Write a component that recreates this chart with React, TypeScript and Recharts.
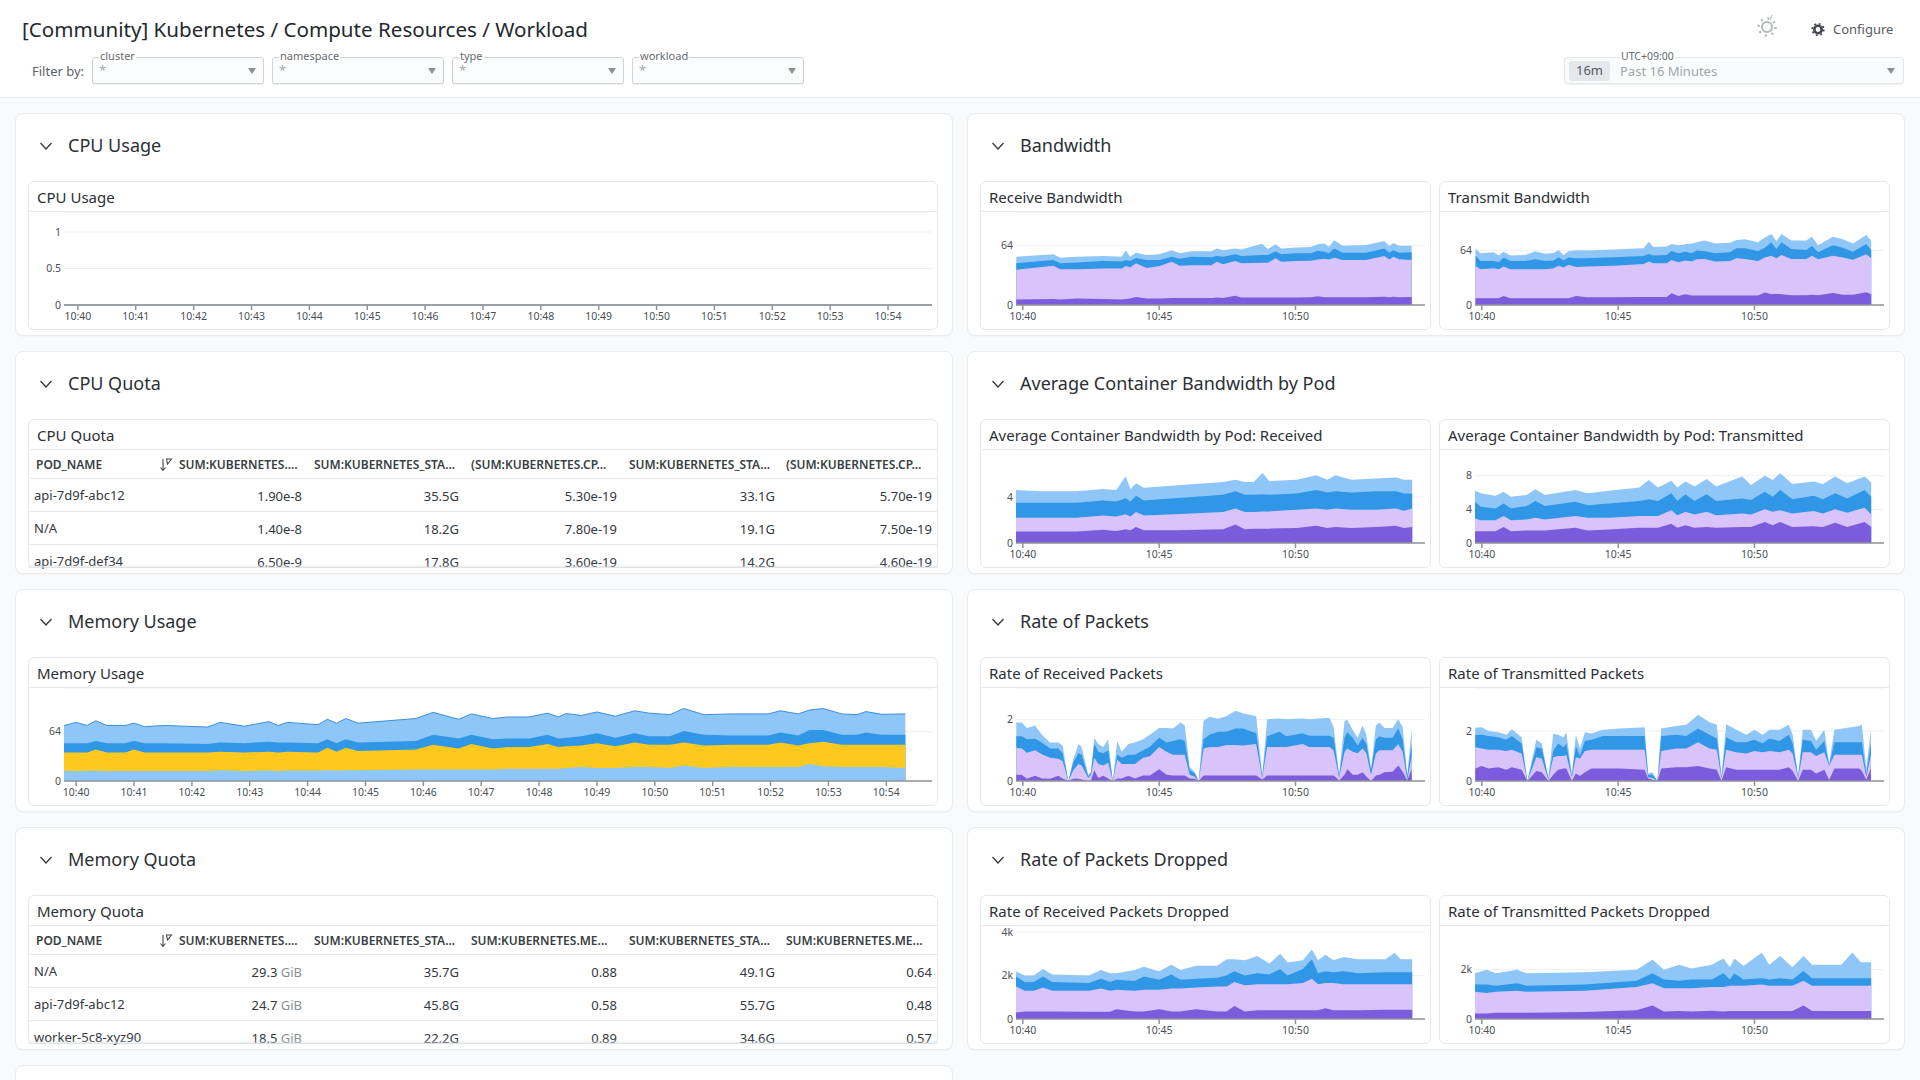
import { AreaChart, Area, XAxis, YAxis, CartesianGrid } from 'recharts';

const DARK = '#7b5cdc';
const LILAC = '#d9c3fb';
const BLUE = '#3096e6';
const SKY = '#8fc6f8';
const YELLOW = '#fec91f';
const FONT = '"Noto Sans", sans-serif';

// all stacked charts keep the top edge of each band, bottom band first
const minuteTicks = [0, 1, 2, 3, 4, 5, 6, 7, 8, 9, 10, 11, 12, 13, 14];
const fiveMinuteTicks = [0, 5, 10];

const cpuTimes = [-0.24, 1, 2, 3, 4, 5, 6, 7, 8, 9, 10, 11, 12, 13, 14, 14.76];
const cpuUsage = [0, 0, 0, 0, 0, 0, 0, 0, 0, 0, 0, 0, 0, 0, 0, 0];

const rxBwTimes = [-0.24, 1.12, 1.37, 1.98, 2.95, 3.62, 3.78, 3.93, 4.15, 4.54, 5.02, 5.46, 5.76, 6.18, 6.91, 7.12, 7.34, 7.79, 8.01, 8.77, 8.99, 9.27, 9.48, 10.02, 10.57, 10.82, 11.06, 11.22, 11.43, 11.73, 12.59, 13.26, 13.44, 13.59, 13.8, 14.26];
const rxBwDark = [6, 6.5, 6, 7, 6.5, 6, 6.5, 7, 8.6, 7, 7, 7.5, 7.5, 7.5, 7.5, 8, 7.5, 10, 8, 8, 8, 8, 8, 8, 8.5, 9.4, 8.5, 8.5, 8.5, 8.5, 8.5, 9, 8.5, 9, 8.5, 8.6];
const rxBwLilac = [38, 42.5, 38.5, 38.5, 39.5, 39.5, 42, 40.5, 45, 40, 42, 46.8, 42.5, 43, 43, 46.8, 44, 47.5, 45, 45.7, 45.7, 50.4, 46.8, 47.5, 47.8, 49, 50, 49, 51, 48.5, 48.5, 53, 49, 52, 49.5, 48.5];
const rxBwBlue = [45, 48.5, 45, 46, 47.5, 47, 48.5, 47.5, 50.7, 48.5, 48.5, 52, 50, 52, 51.5, 53, 52, 54.7, 53, 54, 54, 58, 54.7, 55.8, 55.8, 58.6, 57.5, 56, 61, 56.5, 56.5, 61, 56.5, 59, 56.5, 57];
const rxBwSky = [52, 54.7, 51, 52, 53, 52, 59, 52, 56.5, 54, 54.7, 59, 55.8, 58, 58, 61, 59, 61, 60, 66, 60.4, 65.5, 61, 62, 62.6, 65.5, 66.5, 63, 70, 64, 64.7, 69, 63.7, 67, 64, 64];

const txBwTimes = [-0.23, -0.05, 0.44, 0.62, 0.8, 1.05, 1.6, 1.96, 2.33, 2.63, 2.82, 3.0, 3.18, 3.46, 3.85, 4.83, 5.93, 6.13, 6.29, 6.78, 6.96, 7.21, 7.45, 7.7, 7.88, 8.18, 8.55, 9.1, 9.34, 9.65, 10.13, 10.38, 10.62, 10.8, 10.99, 11.35, 11.9, 12.11, 12.33, 12.88, 13.24, 13.61, 14.1, 14.28];
const txBwDark = [8, 8, 8, 8, 10.5, 8, 8, 8, 8, 8, 8, 8, 8, 10.5, 9, 9, 9.5, 9.5, 9.5, 9.5, 13.7, 10.5, 12.5, 11, 11, 11, 11, 11, 11, 11, 11, 14.5, 12.5, 13.3, 12.5, 11.5, 11.5, 12, 11.5, 14, 12, 12, 14.8, 12.5];
const txBwLilac = [46, 42, 43, 42, 45, 41.8, 41.8, 42, 42, 43, 46, 44, 47, 44.5, 45, 46, 48, 50.8, 49, 49, 52.7, 50, 52, 50.8, 53.5, 54, 50.8, 51.5, 54.7, 54, 51.5, 55.5, 57.8, 54.7, 58.6, 54, 54, 57.8, 53.5, 57.8, 55.5, 53, 59.4, 54.7];
const txBwBlue = [58, 51.5, 51.5, 50, 55.5, 51.5, 51.5, 53.5, 51.5, 52, 56, 52, 55.5, 54.7, 54.7, 56, 57.4, 59.8, 58, 58.6, 63.3, 60.5, 62.5, 60.5, 63.7, 63, 60.5, 61.7, 66.4, 66.4, 63.3, 67, 73.4, 65.6, 73.4, 65.6, 64.5, 69, 61.7, 70, 67, 62.5, 71.5, 64.5];
const txBwSky = [66, 60.5, 61.7, 58, 62.5, 58, 58.6, 63, 60, 61, 64, 58.6, 63, 64, 63.7, 65, 66.4, 74, 68, 68.4, 71.5, 70, 71, 72, 73.4, 75.4, 72, 73, 76, 77, 73.4, 79, 83, 75, 83, 75.4, 75.4, 80, 70, 80, 77, 72, 82, 75.4];

const avgRxTimes = [-0.25, 0.63, 1.97, 2.94, 3.43, 3.77, 3.95, 4.15, 4.44, 5.56, 7.35, 7.8, 8.14, 8.47, 8.79, 9.04, 10.04, 10.76, 11.17, 11.46, 12.06, 12.96, 13.68, 13.97, 14.28];
const avgRxDark = [1.0, 1.0, 1.0, 1.15, 1.05, 1.2, 1.1, 1.4, 1.1, 1.1, 1.2, 1.6, 1.2, 1.25, 1.25, 1.25, 1.3, 1.5, 1.3, 1.4, 1.3, 1.4, 1.5, 1.3, 1.4];
const avgRxLilac = [2.2, 2.2, 2.2, 2.4, 2.3, 2.5, 2.3, 2.7, 2.4, 2.5, 2.7, 3.0, 2.7, 2.7, 2.75, 2.75, 2.9, 3.0, 2.9, 3.0, 2.9, 2.9, 3.0, 2.8, 3.0];
const avgRxBlue = [3.5, 3.5, 3.5, 3.7, 3.6, 3.9, 3.6, 4.1, 3.7, 3.9, 4.2, 4.5, 4.2, 4.2, 4.25, 4.2, 4.3, 4.6, 4.4, 4.5, 4.4, 4.5, 4.5, 4.3, 4.3];
const avgRxSky = [4.6, 4.5, 4.5, 4.7, 4.6, 5.8, 4.7, 5.2, 4.8, 5.0, 5.3, 5.5, 5.3, 5.3, 6.1, 5.4, 5.5, 5.9, 5.5, 5.9, 5.5, 5.6, 5.7, 5.5, 5.5];

const avgTxTimes = [-0.25, -0.04, 0.5, 0.8, 1.07, 1.64, 1.97, 2.31, 3.43, 3.88, 4.66, 5.78, 6.12, 6.46, 6.95, 7.17, 7.47, 7.8, 8.25, 8.59, 9.55, 9.87, 10.38, 10.67, 10.94, 11.39, 12.17, 12.51, 12.96, 13.4, 14.04, 14.28];
const avgTxDark = [1.4, 1.4, 1.4, 1.9, 1.4, 1.5, 1.5, 1.5, 1.8, 1.5, 1.6, 1.8, 1.8, 1.8, 2.3, 1.8, 2.1, 1.8, 1.9, 1.8, 1.9, 1.9, 2.5, 2.1, 2.5, 1.9, 2.0, 1.9, 2.4, 1.9, 2.5, 1.9];
const avgTxLilac = [2.9, 2.7, 2.7, 3.2, 2.7, 2.8, 3.0, 2.8, 3.2, 3.0, 3.0, 3.2, 3.2, 3.2, 3.9, 3.3, 3.7, 3.4, 3.7, 3.3, 3.5, 3.4, 4.0, 3.7, 3.9, 3.5, 3.8, 3.5, 4.0, 3.6, 4.2, 3.4];
const avgTxBlue = [4.9, 4.3, 4.1, 4.7, 4.1, 4.4, 5.0, 4.4, 4.9, 4.5, 4.7, 5.0, 5.2, 5.0, 5.9, 5.0, 5.8, 5.0, 5.8, 5.0, 5.3, 5.1, 6.1, 5.5, 6.3, 5.2, 5.6, 5.2, 5.9, 5.3, 6.3, 5.5];
const avgTxSky = [6.2, 5.9, 5.6, 6.1, 5.5, 5.7, 6.4, 5.7, 6.3, 5.9, 6.2, 6.6, 7.5, 6.6, 7.4, 6.6, 7.3, 6.7, 7.6, 6.7, 7.9, 6.9, 8.0, 7.5, 8.3, 7.0, 7.3, 7.0, 7.9, 7.1, 7.9, 7.2];

const memTimes = [-0.21, 0, 0.19, 0.34, 0.53, 0.85, 1.0, 1.18, 1.53, 2.27, 2.49, 2.91, 3.33, 3.49, 3.65, 4.18, 4.34, 4.5, 4.66, 4.87, 5.87, 6.17, 6.61, 6.83, 7.2, 7.46, 7.83, 8.15, 8.33, 8.47, 8.73, 9.0, 9.32, 9.65, 9.9, 10.26, 10.5, 10.85, 11.32, 11.96, 12.17, 12.48, 12.67, 12.91, 13.23, 13.49, 13.65, 13.92, 14.33];
const memSkyLow = [13.4, 13, 13.4, 13.4, 13, 13, 13, 13, 13, 13, 14, 13, 13.5, 13, 13.5, 13.5, 14, 13.5, 14, 14, 15, 15, 15, 15, 15, 16, 16, 16, 16, 17, 18, 17, 17, 18, 18, 17, 20, 17, 18, 18, 18, 18, 22, 19, 18, 18, 18, 18, 17];
const memYellow = [37, 37, 37, 41, 37, 37, 41, 37, 37, 37, 38, 37, 38, 37, 38, 37, 43, 38, 43, 39, 41, 47, 42, 48, 42, 44, 44, 48, 44, 45, 46, 49, 45, 50, 47, 47, 50, 46, 47, 47, 50, 46, 49, 51, 47, 47, 47, 47, 47];
const memBlue = [49, 49, 49, 52, 49, 49, 52, 49, 49, 48, 50, 49, 51, 50, 50, 49, 54, 49, 54, 50, 52, 60, 55, 60, 54, 55, 55, 60, 55, 56, 58, 62, 56, 62, 58, 58, 65, 60, 59, 59, 63, 59, 66, 66, 60, 60, 63, 60, 60];
const memSkyTop = [72, 76, 72, 78, 72, 72, 75, 70.5, 72, 70, 76, 71, 77, 72, 76, 73, 80, 75, 81, 75, 81, 89, 80, 87, 81, 83, 83, 88, 83, 87.5, 85, 89.5, 84, 91, 88, 86, 94, 86, 87, 87, 91, 87, 92, 94, 87, 86, 90, 86.5, 87];

const rxPktTimes = [-0.24, -0.04, 0.15, 0.45, 0.7, 1.0, 1.3, 1.46, 1.67, 1.85, 2.04, 2.16, 2.4, 2.5, 2.62, 2.77, 2.95, 3.13, 3.3, 3.46, 3.63, 3.87, 4.11, 4.41, 4.66, 5.0, 5.27, 5.51, 5.78, 5.94, 6.12, 6.3, 6.45, 6.63, 6.85, 7.16, 7.46, 7.8, 8.07, 8.56, 8.78, 8.96, 9.41, 9.66, 10.27, 10.5, 11.24, 11.4, 11.6, 11.8, 11.9, 12.1, 12.28, 12.46, 12.6, 12.77, 12.95, 13.08, 13.26, 13.56, 13.77, 13.93, 14.1, 14.26];
const rxPktDark = [0.2, 0.2, 0.07, 0.17, 0.08, 0.07, 0.17, 0.08, 0, 0.07, 0.07, 0.05, 0, 0.02, 0.35, 0.1, 0.17, 0.08, 0, 0.08, 0.08, 0.17, 0.08, 0.18, 0.18, 0.38, 0.2, 0.18, 0.18, 0.18, 0.08, 0.07, 0, 0.18, 0.18, 0.18, 0.18, 0.18, 0.18, 0.18, 0.05, 0.18, 0.18, 0.18, 0.18, 0.18, 0.18, 0.18, 0.02, 0.2, 0.38, 0.2, 0.2, 0.28, 0.15, 0, 0.18, 0.2, 0.28, 0.3, 0.5, 0.3, 0.02, 0.38];
const rxPktLilac = [1.08, 1.05, 0.92, 1.0, 0.87, 0.75, 0.72, 0.65, 0, 0.35, 0.55, 0.5, 0.1, 0.2, 0.75, 0.55, 0.5, 0.6, 0, 0.7, 0.55, 0.55, 0.55, 0.75, 0.8, 1.1, 0.95, 0.85, 0.85, 0.85, 0.2, 0.15, 0, 1.05, 1.1, 1.1, 1.17, 1.17, 1.15, 1.2, 0.1, 1.1, 1.1, 1.1, 1.2, 1.1, 1.1, 1.0, 0.1, 0.95, 1.05, 0.95, 0.9, 1.05, 0.9, 0.2, 0.9, 1.0, 1.0, 1.0, 1.2, 0.95, 0.05, 0.8];
const rxPktBlue = [1.45, 1.45, 1.35, 1.37, 1.25, 1.05, 1.05, 0.9, 0, 0.6, 0.9, 0.85, 0.15, 0.25, 1.2, 0.95, 0.9, 1.0, 0, 0.85, 0.75, 0.85, 0.85, 1.0, 1.1, 1.4, 1.25, 1.3, 1.35, 1.3, 0.35, 0.25, 0, 1.35, 1.5, 1.6, 1.6, 1.7, 1.7, 1.55, 0.15, 1.45, 1.6, 1.45, 1.55, 1.47, 1.47, 1.4, 0.15, 1.4, 1.58, 1.4, 1.15, 1.4, 1.2, 0.35, 1.35, 1.45, 1.4, 1.4, 1.7, 1.35, 0.15, 1.2];
const rxPktSky = [1.9, 1.9, 1.72, 1.8, 1.5, 1.25, 1.25, 1.15, 0, 0.7, 1.2, 1.1, 0.2, 0.3, 1.4, 1.2, 1.1, 1.35, 0, 1.3, 0.95, 1.2, 1.25, 1.35, 1.5, 1.72, 1.72, 1.7, 1.9, 1.8, 0.45, 0.3, 0, 1.95, 2.08, 2.02, 2.1, 2.28, 2.2, 2.1, 0.2, 2.0, 2.03, 2.0, 2.03, 2.0, 2.05, 1.75, 0.2, 1.95, 1.98, 1.65, 1.4, 1.8, 1.5, 0.4, 1.8, 1.9, 1.72, 1.72, 2.0, 1.75, 0.2, 1.72];

const txPktTimes = [-0.24, 0, 0.24, 0.6, 0.9, 1.1, 1.46, 1.67, 2.0, 2.2, 2.44, 2.62, 2.8, 3.0, 3.1, 3.3, 3.45, 3.6, 3.78, 4.02, 4.45, 5.06, 5.97, 6.1, 6.26, 6.44, 6.58, 7.13, 7.5, 7.93, 8.35, 8.62, 8.79, 8.96, 9.33, 9.7, 10.0, 10.3, 10.55, 10.92, 11.26, 11.4, 11.6, 11.77, 12.07, 12.26, 12.56, 12.74, 12.93, 13.84, 13.94, 14.1, 14.27];
const txPktDark = [0.5, 0.6, 0.5, 0.55, 0.45, 0.55, 0.45, 0, 0.4, 0.35, 0, 0.25, 0.45, 0.5, 0.5, 0, 0.3, 0.2, 0.35, 0.5, 0.5, 0.5, 0.45, 0.1, 0.05, 0, 0.5, 0.55, 0.55, 0.6, 0.5, 0.45, 0, 0.55, 0.45, 0.45, 0.45, 0.45, 0.45, 0.45, 0.55, 0.4, 0, 0.45, 0.45, 0.3, 0.45, 0.05, 0.5, 0.5, 0.4, 0.05, 0.5];
const txPktLilac = [1.35, 1.3, 1.25, 1.25, 1.2, 1.25, 1.1, 0, 0.95, 0.9, 0.05, 0.95, 1.0, 1.0, 1.05, 0.15, 0.95, 0.9, 1.2, 1.25, 1.25, 1.25, 1.25, 0.15, 0.12, 0, 1.2, 1.3, 1.3, 1.55, 1.3, 1.25, 0.1, 1.25, 1.15, 1.1, 1.2, 1.15, 1.2, 1.15, 1.25, 1.1, 0.1, 1.15, 1.15, 1.0, 1.15, 0.6, 1.05, 1.05, 1.05, 0.15, 1.05];
const txPktBlue = [1.84, 1.85, 1.8, 1.75, 1.65, 1.8, 1.5, 0, 1.35, 1.3, 0.1, 1.2, 1.5, 1.35, 1.5, 0.2, 1.4, 1.0, 1.6, 1.65, 1.8, 1.8, 1.8, 0.25, 0.25, 0, 1.8, 1.85, 1.8, 2.1, 1.85, 1.7, 0.15, 1.75, 1.55, 1.55, 1.65, 1.5, 1.7, 1.6, 1.85, 1.5, 0.15, 1.65, 1.6, 1.25, 1.6, 0.6, 1.55, 1.55, 1.55, 0.25, 1.5];
const txPktSky = [2.13, 2.15, 2.0, 1.95, 1.85, 2.07, 1.75, 0, 1.65, 1.5, 0.12, 1.9, 1.85, 1.75, 1.95, 0.25, 1.85, 1.3, 1.95, 1.9, 2.05, 2.1, 2.15, 0.3, 0.35, 0, 2.1, 2.2, 2.25, 2.65, 2.35, 2.25, 0.2, 2.27, 2.05, 1.85, 2.05, 1.85, 2.05, 2.05, 2.25, 1.85, 0.2, 2.05, 2.05, 1.6, 2.05, 0.7, 2.05, 2.2, 2.25, 0.5, 2.05];

const rxDropTimes = [-0.25, 0.07, 0.4, 0.74, 1.08, 2.42, 2.87, 3.2, 3.43, 4.1, 4.44, 5.0, 5.45, 5.78, 6.35, 7.13, 7.47, 7.76, 8.14, 8.6, 9.04, 9.44, 9.71, 10.27, 10.6, 10.83, 11.1, 11.39, 11.77, 12.29, 13.3, 13.63, 13.86, 14.28];
const rxDropDark = [300, 350, 350, 350, 350, 330, 330, 330, 450, 350, 350, 450, 350, 350, 450, 350, 350, 600, 350, 400, 400, 400, 400, 400, 400, 400, 500, 400, 400, 400, 420, 420, 420, 420];
const rxDropLilac = [1500, 1300, 1300, 1450, 1300, 1300, 1400, 1300, 1350, 1300, 1350, 1350, 1400, 1400, 1450, 1500, 1500, 1700, 1550, 1600, 1600, 1600, 1600, 1650, 1850, 1600, 1650, 1650, 1600, 1600, 1600, 1600, 1600, 1600];
const rxDropBlue = [1950, 1700, 1700, 1950, 1700, 1650, 1850, 1700, 1800, 1750, 1950, 1800, 2050, 1800, 1850, 1900, 2000, 2200, 2000, 2100, 2050, 2300, 2000, 2300, 2750, 2100, 2200, 2150, 2200, 2100, 2150, 2150, 2150, 2150];
const rxDropSky = [2200, 2000, 2000, 2300, 2050, 2000, 2250, 2100, 2100, 2250, 2400, 2200, 2500, 2250, 2450, 2450, 2750, 2750, 2700, 2900, 2550, 3000, 2600, 2700, 3200, 2700, 2950, 2700, 2850, 2750, 2750, 3050, 2750, 2750];

const txDropTimes = [-0.25, 0.18, 0.52, 1.3, 1.64, 3.77, 5.67, 6.26, 6.68, 7.24, 7.69, 8.43, 8.86, 9.1, 9.26, 9.6, 10.27, 10.54, 10.94, 11.39, 11.8, 12.11, 13.18, 13.59, 13.9, 14.28];
const txDropDark = [220, 220, 250, 250, 250, 280, 350, 550, 300, 320, 300, 330, 300, 320, 320, 320, 320, 320, 320, 320, 550, 320, 320, 320, 320, 320];
const txDropLilac = [1100, 1050, 1100, 1150, 1100, 1150, 1300, 1450, 1250, 1250, 1250, 1300, 1300, 1350, 1350, 1350, 1400, 1350, 1350, 1350, 1550, 1350, 1350, 1350, 1350, 1350];
const txDropBlue = [1400, 1400, 1350, 1450, 1350, 1400, 1550, 1850, 1600, 1550, 1600, 1600, 1850, 1600, 1850, 1600, 1650, 1600, 1650, 1600, 1950, 1650, 1650, 1650, 1650, 1650];
const txDropSky = [1850, 2000, 1850, 2000, 1850, 1900, 2000, 2400, 2000, 2200, 2050, 2200, 2450, 2100, 2450, 2150, 2700, 2200, 2550, 2100, 2550, 2200, 2200, 2700, 2300, 2300];

const cpuQuotaHeaders = ['SUM:KUBERNETES....', 'SUM:KUBERNETES_STA...', '(SUM:KUBERNETES.CP...', 'SUM:KUBERNETES_STA...', '(SUM:KUBERNETES.CP...'];
const cpuQuotaPods = ['api-7d9f-abc12', 'N/A', 'api-7d9f-def34'];
const cpuQuotaRows = [
  ['1.90e-8', '35.5G', '5.30e-19', '33.1G', '5.70e-19'],
  ['1.40e-8', '18.2G', '7.80e-19', '19.1G', '7.50e-19'],
  ['6.50e-9', '17.8G', '3.60e-19', '14.2G', '4.60e-19'],
];
const memQuotaHeaders = ['SUM:KUBERNETES....', 'SUM:KUBERNETES_STA...', 'SUM:KUBERNETES.ME...', 'SUM:KUBERNETES_STA...', 'SUM:KUBERNETES.ME...'];
const memQuotaPods = ['N/A', 'api-7d9f-abc12', 'worker-5c8-xyz90'];
const memQuotaRows = [
  ['29.3 GiB', '35.7G', '0.88', '49.1G', '0.64'],
  ['24.7 GiB', '45.8G', '0.58', '55.7G', '0.48'],
  ['18.5 GiB', '22.2G', '0.89', '34.6G', '0.57'],
];

const filterNames = ['cluster', 'namespace', 'type', 'workload'];
const filterLefts = [92, 272, 452, 632];
const colRights = [302, 459, 617, 775, 932];
const colHeaderLefts = [179, 314, 471, 629, 786];
const panelTops = [113, 351, 589, 827];

function clock(m: number) {
  return `10:${String(40 + m)}`;
}

function kilo(v: number) {
  return v === 0 ? '0' : `${v / 1000}k`;
}

type Band = { values: number[]; color: string; line?: string };

function StackChart({ width, times, bands, top, yTicks, xTicks, xStart, yFormat }: {
  width: number;
  times: number[];
  bands: Band[];
  top: number;
  yTicks: number[];
  xTicks: number[];
  xStart: number;
  yFormat?: (v: number) => string;
}) {
  const data = times.map((t, i) => {
    const row: Record<string, number> = { t };
    bands.forEach((b, j) => {
      row[`b${j}`] = b.values[i];
    });
    return row;
  });
  const axisTick = { fontSize: 10.5, fill: '#4a4f55', fontFamily: FONT };
  return (
    <AreaChart width={width} height={118} data={data} margin={{ top: 0, right: 5, bottom: 0, left: 0 }}>
      <CartesianGrid vertical={false} stroke="#eeeff1" />
      <XAxis
        dataKey="t"
        type="number"
        domain={[xStart, xStart + 15]}
        ticks={xTicks}
        interval={0}
        height={25}
        tickFormatter={clock}
        tick={axisTick}
        tickSize={5}
        tickMargin={3}
        stroke="#8f9499"
        strokeWidth={1.5}
      />
      <YAxis
        type="number"
        domain={[0, top]}
        ticks={yTicks}
        interval={0}
        width={35}
        tickFormatter={yFormat}
        tick={axisTick}
        tickLine={false}
        axisLine={false}
        tickSize={0}
        tickMargin={3}
      />
      {bands.map((b, j) => ({ b, j })).reverse().map(({ b, j }) => (
        <Area
          key={j}
          dataKey={`b${j}`}
          type="linear"
          stroke={b.line ?? 'none'}
          strokeWidth={1}
          fill={b.color}
          fillOpacity={1}
          dot={false}
          activeDot={false}
          isAnimationActive={false}
        />
      ))}
    </AreaChart>
  );
}

function Chevron({ x, y }: { x: number; y: number }) {
  return (
    <svg style={{ position: 'absolute', left: x - 7, top: y - 5 }} width="14" height="10">
      <polyline points="1.5,2 7,8 12.5,2" fill="none" stroke="#33383e" strokeWidth="1.3" />
    </svg>
  );
}

function Panel({ left, top, width, title }: { left: number; top: number; width: number; title: string }) {
  return (
    <>
      <div style={{ position: 'absolute', left, top, width, height: 223, boxSizing: 'border-box', background: '#fff', border: '1px solid #e9ecef', borderRadius: 8, boxShadow: '0 1px 2px rgba(0,0,0,.03)' }} />
      <Chevron x={left + 31} y={top + 33} />
      <div style={{ position: 'absolute', left: left + 53, top: top + 19, lineHeight: '26px', fontSize: 18, color: '#2b3036', whiteSpace: 'nowrap' }}>{title}</div>
    </>
  );
}

// left/top are the inner content origin, the frame sits one pixel outside it
function Widget({ left, top, width, title, children }: { left: number; top: number; width: number; title: string; children: any }) {
  return (
    <div style={{ position: 'absolute', left: left - 1, top: top - 1, width: width + 2, height: 149, boxSizing: 'border-box', background: '#fff', border: '1px solid #e6e8eb', borderRadius: 6 }}>
      <div style={{ position: 'absolute', left: 8, top: 4, lineHeight: '22px', fontSize: 15, color: '#2b3036', whiteSpace: 'nowrap' }}>{title}</div>
      <div style={{ position: 'absolute', left: -1, right: -1, top: 29, height: 1, background: '#e6e8eb' }} />
      <div style={{ position: 'absolute', left: 0, top: 30 }}>{children}</div>
    </div>
  );
}

function QuotaTable({ top, title, headers, pods, rows }: { top: number; title: string; headers: string[]; pods: string[]; rows: string[][] }) {
  const cell = { position: 'absolute', whiteSpace: 'nowrap', lineHeight: '12px' } as const;
  return (
    <Widget left={29} top={top} width={908} title={title}>
      <div style={{ position: 'absolute', left: 0, top: 0, width: 908, height: 118 }}>
        <div style={{ ...cell, left: 7, top: 9, fontSize: 12, fontWeight: 600, color: '#3a3f45' }}>POD_NAME</div>
        <svg style={{ position: 'absolute', left: 130, top: 8 }} width="14" height="15">
          <path d="M4 1v11M1.5 9.5 4 12.5l2.5-3M7.5 1h5L8.5 6z" fill="none" stroke="#44494f" strokeWidth="1.1" />
        </svg>
        {headers.map((h, i) => (
          <div key={i} style={{ ...cell, left: colHeaderLefts[i] - 29, top: 9, fontSize: 12, fontWeight: 600, color: '#3a3f45' }}>{h}</div>
        ))}
        <div style={{ position: 'absolute', left: -1, width: 910, top: 28, height: 1, background: '#e6e8eb' }} />
        <div style={{ position: 'absolute', left: -1, width: 910, top: 61, height: 1, background: '#e6e8eb' }} />
        <div style={{ position: 'absolute', left: -1, width: 910, top: 94, height: 1, background: '#e6e8eb' }} />
        {pods.map((p, r) => (
          <div key={p} style={{ ...cell, left: 5, top: 39 + r * 33, fontSize: 13, color: '#33383e' }}>{p}</div>
        ))}
        {rows.map((row, r) =>
          row.map((v, c) => {
            const [num, unit] = v.split(' ');
            return (
              <div key={c} style={{ ...cell, left: colRights[c] - 29 - 160, width: 160, textAlign: 'right', top: 40 + r * 33, fontSize: 13, color: '#33383e' }}>
                {num}
                {unit ? <span style={{ color: '#8a8f95' }}> {unit}</span> : null}
              </div>
            );
          }),
        )}
        <div style={{ position: 'absolute', left: -1, width: 910, top: 114, height: 4, background: 'linear-gradient(rgba(225,227,230,0), rgba(220,223,227,.7))' }} />
      </div>
    </Widget>
  );
}

function Caret({ x, y }: { x: number; y: number }) {
  return <div style={{ position: 'absolute', left: x - 4, top: y - 3, width: 0, height: 0, borderLeft: '4px solid transparent', borderRight: '4px solid transparent', borderTop: '6px solid #8b9096' }} />;
}

function Filter({ left, name }: { left: number; name: string }) {
  return (
    <>
      <div style={{ position: 'absolute', left, top: 57, width: 172, height: 27, boxSizing: 'border-box', background: '#fbfcfd', border: '1px solid #cfd3d8', borderRadius: 3, boxShadow: '0 1px 1px rgba(0,0,0,.06)' }} />
      <div style={{ position: 'absolute', left: left + 7, top: 49, padding: '0 1px', background: '#fff', lineHeight: '14px', fontSize: 11, color: '#666b71' }}>{name}</div>
      <div style={{ position: 'absolute', left: left + 7, top: 63, lineHeight: '14px', fontSize: 13, color: '#a5a9ae' }}>*</div>
      <Caret x={left + 159.5} y={71} />
    </>
  );
}

function Header() {
  return (
    <>
      <div style={{ position: 'absolute', left: 0, top: 0, width: 1920, height: 98, boxSizing: 'border-box', background: '#fff', borderBottom: '1px solid #e3e6ea' }} />
      <div style={{ position: 'absolute', left: 22, top: 14, lineHeight: '30px', fontSize: 20.6, color: '#23282e', whiteSpace: 'nowrap' }}>[Community] Kubernetes / Compute Resources / Workload</div>
      <div style={{ position: 'absolute', left: 32, top: 62, lineHeight: '18px', fontSize: 13, color: '#5c6167' }}>Filter by:</div>
      {filterNames.map((n, i) => (
        <Filter key={n} left={filterLefts[i]} name={n} />
      ))}
      <svg style={{ position: 'absolute', left: 1755, top: 14 }} width="24" height="24">
        <circle cx="12" cy="13" r="5" fill="none" stroke="#b4b8bd" strokeWidth="2" />
        <circle cx="12" cy="13" r="8.5" fill="none" stroke="#b4b8bd" strokeWidth="2.5" strokeDasharray="2 4.7" />
        <path d="M15 6 17 1" stroke="#c9ccd0" strokeWidth="1.5" />
      </svg>
      <svg style={{ position: 'absolute', left: 1811, top: 22 }} width="14" height="15">
        <circle cx="7" cy="7.5" r="3.7" fill="none" stroke="#43484e" strokeWidth="2.6" />
        <circle cx="7" cy="7.5" r="5.8" fill="none" stroke="#43484e" strokeWidth="1.6" strokeDasharray="2 2.55" />
      </svg>
      <div style={{ position: 'absolute', left: 1833, top: 20, lineHeight: '18px', fontSize: 13, color: '#565b61' }}>Configure</div>
      <div style={{ position: 'absolute', left: 1564, top: 57, width: 340, height: 27, boxSizing: 'border-box', background: '#fafbfc', border: '1px solid #e3e6ea', borderRadius: 4, boxShadow: '0 1px 1px rgba(0,0,0,.05)' }} />
      <div style={{ position: 'absolute', left: 1620, top: 49, padding: '0 1px', background: '#fff', lineHeight: '14px', fontSize: 10.5, color: '#666b71' }}>UTC+09:00</div>
      <div style={{ position: 'absolute', left: 1569, top: 61, width: 41, height: 20, background: '#e5e7eb', borderRadius: 3, textAlign: 'center', lineHeight: '19px', fontSize: 13, color: '#555a60' }}>16m</div>
      <div style={{ position: 'absolute', left: 1620, top: 62, lineHeight: '18px', fontSize: 13, color: '#a2a6ab' }}>Past 16 Minutes</div>
      <Caret x={1891} y={71} />
    </>
  );
}

export default function App() {
  const bands4 = (d: number[], l: number[], b: number[], s: number[]): Band[] => [
    { values: d, color: DARK },
    { values: l, color: LILAC },
    { values: b, color: BLUE },
    { values: s, color: SKY },
  ];
  const W = 449;
  return (
    <div style={{ position: 'absolute', left: 0, top: 0, width: 1920, height: 1080, overflow: 'hidden', background: '#f8fafc', fontFamily: FONT }}>
      <Header />

      <Panel left={15} top={panelTops[0]} width={938} title="CPU Usage" />
      <Widget left={29} top={182} width={908} title="CPU Usage">
        <StackChart width={908} times={cpuTimes} bands={[{ values: cpuUsage, color: '#8f9499', line: '#8f9499' }]} top={1.274} yTicks={[0, 0.5, 1]} xTicks={minuteTicks} xStart={-0.24} />
      </Widget>

      <Panel left={15} top={panelTops[1]} width={938} title="CPU Quota" />
      <QuotaTable top={420} title="CPU Quota" headers={cpuQuotaHeaders} pods={cpuQuotaPods} rows={cpuQuotaRows} />

      <Panel left={15} top={panelTops[2]} width={938} title="Memory Usage" />
      <Widget left={29} top={658} width={908} title="Memory Usage">
        <StackChart
          width={908}
          times={memTimes}
          bands={[
            { values: memSkyLow, color: SKY },
            { values: memYellow, color: YELLOW },
            { values: memBlue, color: BLUE },
            { values: memSkyTop, color: SKY, line: '#3d8fd9' },
          ]}
          top={120.6}
          yTicks={[0, 64]}
          xTicks={minuteTicks}
          xStart={-0.21}
        />
      </Widget>

      <Panel left={15} top={panelTops[3]} width={938} title="Memory Quota" />
      <QuotaTable top={896} title="Memory Quota" headers={memQuotaHeaders} pods={memQuotaPods} rows={memQuotaRows} />

      <div style={{ position: 'absolute', left: 15, top: 1065, width: 938, height: 40, boxSizing: 'border-box', background: '#fff', border: '1px solid #e9ecef', borderRadius: 8 }} />

      <Panel left={967} top={panelTops[0]} width={938} title="Bandwidth" />
      <Widget left={981} top={182} width={W} title="Receive Bandwidth">
        <StackChart width={W} times={rxBwTimes} bands={bands4(rxBwDark, rxBwLilac, rxBwBlue, rxBwSky)} top={100.4} yTicks={[0, 64]} xTicks={fiveMinuteTicks} xStart={-0.25} />
      </Widget>
      <Widget left={1440} top={182} width={W} title="Transmit Bandwidth">
        <StackChart width={W} times={txBwTimes} bands={bands4(txBwDark, txBwLilac, txBwBlue, txBwSky)} top={108.9} yTicks={[0, 64]} xTicks={fiveMinuteTicks} xStart={-0.25} />
      </Widget>

      <Panel left={967} top={panelTops[1]} width={938} title="Average Container Bandwidth by Pod" />
      <Widget left={981} top={420} width={W} title="Average Container Bandwidth by Pod: Received">
        <StackChart width={W} times={avgRxTimes} bands={bands4(avgRxDark, avgRxLilac, avgRxBlue, avgRxSky)} top={8.09} yTicks={[0, 4]} xTicks={fiveMinuteTicks} xStart={-0.25} />
      </Widget>
      <Widget left={1440} top={420} width={W} title="Average Container Bandwidth by Pod: Transmitted">
        <StackChart width={W} times={avgTxTimes} bands={bands4(avgTxDark, avgTxLilac, avgTxBlue, avgTxSky)} top={11.05} yTicks={[0, 4, 8]} xTicks={fiveMinuteTicks} xStart={-0.25} />
      </Widget>

      <Panel left={967} top={panelTops[2]} width={938} title="Rate of Packets" />
      <Widget left={981} top={658} width={W} title="Rate of Received Packets">
        <StackChart width={W} times={rxPktTimes} bands={bands4(rxPktDark, rxPktLilac, rxPktBlue, rxPktSky)} top={3.016} yTicks={[0, 2]} xTicks={fiveMinuteTicks} xStart={-0.25} />
      </Widget>
      <Widget left={1440} top={658} width={W} title="Rate of Transmitted Packets">
        <StackChart width={W} times={txPktTimes} bands={bands4(txPktDark, txPktLilac, txPktBlue, txPktSky)} top={3.72} yTicks={[0, 2]} xTicks={fiveMinuteTicks} xStart={-0.25} />
      </Widget>

      <Panel left={967} top={panelTops[3]} width={938} title="Rate of Packets Dropped" />
      <Widget left={981} top={896} width={W} title="Rate of Received Packets Dropped">
        <StackChart width={W} times={rxDropTimes} bands={bands4(rxDropDark, rxDropLilac, rxDropBlue, rxDropSky)} top={4276} yTicks={[0, 2000, 4000]} xTicks={fiveMinuteTicks} xStart={-0.25} yFormat={kilo} />
      </Widget>
      <Widget left={1440} top={896} width={W} title="Rate of Transmitted Packets Dropped">
        <StackChart width={W} times={txDropTimes} bands={bands4(txDropDark, txDropLilac, txDropBlue, txDropSky)} top={3770} yTicks={[0, 2000]} xTicks={fiveMinuteTicks} xStart={-0.25} yFormat={kilo} />
      </Widget>
    </div>
  );
}
